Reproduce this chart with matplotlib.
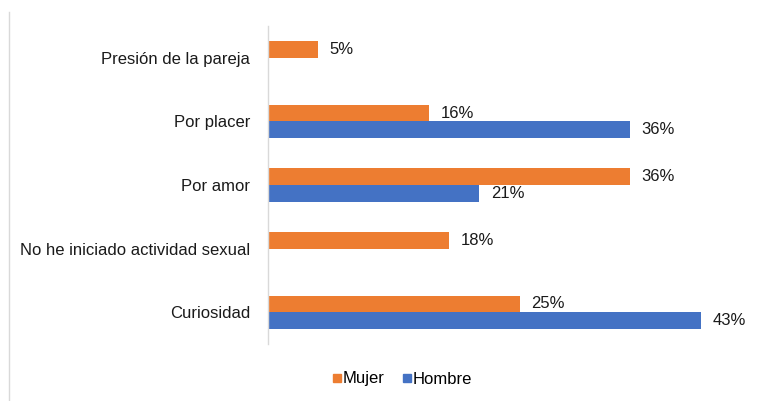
import matplotlib
matplotlib.use("Agg")
import matplotlib.pyplot as plt
import numpy as np
from matplotlib.lines import Line2D

categories = ["Presión de la pareja", "Por placer", "Por amor",
              "No he iniciado actividad sexual", "Curiosidad"]
mujer = [5, 16, 36, 18, 25]
hombre = [None, 36, 21, None, 43]

plt.rcParams['font.family'] = ['Liberation Sans', 'DejaVu Sans']

W, H = 781, 401
fig = plt.figure(figsize=(W / 100, H / 100), dpi=100)
ax = fig.add_axes([268 / W, 1 - 344 / H, (771 - 268) / W, (344 - 26) / H])

orange = "#ED7D31"
blue = "#4472C4"
fs = 12
n = len(categories)
y = np.arange(n)[::-1].astype(float)  # top category at highest y
bh = 0.26

for i, (m, h) in enumerate(zip(mujer, hombre)):
    if m is not None:
        ax.barh(y[i] + bh / 2, m, height=bh, color=orange)
        ax.text(m + 1.15, y[i] + bh / 2, f"{m}%", va="center", ha="left",
                fontsize=fs, color="#1a1a1a")
    if h is not None:
        ax.barh(y[i] - bh / 2, h, height=bh, color=blue)
        ax.text(h + 1.15, y[i] - bh / 2, f"{h}%", va="center", ha="left",
                fontsize=fs, color="#1a1a1a")

ax.set_xlim(0, 50)
ax.set_ylim(-0.5, n - 0.5)
ax.set_yticks(y)
ax.set_yticklabels(categories, fontsize=fs, color="#1a1a1a")
ax.tick_params(axis="y", length=0, pad=13)
ax.set_xticks([])
for s in ["top", "right", "bottom"]:
    ax.spines[s].set_visible(False)
ax.spines["left"].set_color("#D9D9D9")
ax.spines["left"].set_linewidth(1)

# legend
handles = [Line2D([], [], marker="s", linestyle="none", color=orange, markersize=5.5),
           Line2D([], [], marker="s", linestyle="none", color=blue, markersize=5.5)]
fig.legend(handles, ["Mujer", "Hombre"], loc="center",
           bbox_to_anchor=(401 / W, 1 - 379 / H), ncol=2, frameon=False,
           fontsize=fs, handletextpad=-0.1, columnspacing=0.9, handlelength=0.9)

# light chart-border fragment on the left
fig.add_artist(Line2D([8.5 / W, 8.5 / W], [0, 1 - 12 / H], transform=fig.transFigure,
                      color="#D9D9D9", linewidth=1))

fig.savefig("out.png", dpi=100)
